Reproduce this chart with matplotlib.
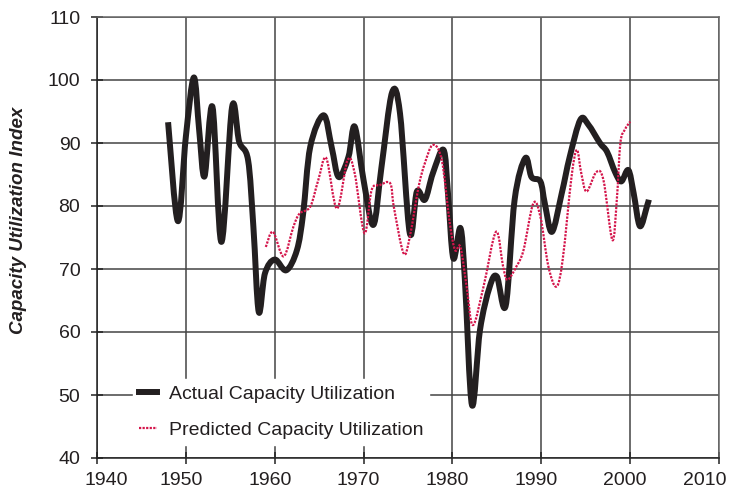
import matplotlib
matplotlib.use("Agg")
import matplotlib.pyplot as plt
from matplotlib.path import Path
from matplotlib.patches import PathPatch
from matplotlib.lines import Line2D
from matplotlib.transforms import ScaledTranslation

actual_years = [1948.0, 1949.1, 1950.0, 1950.9, 1951.5, 1952.1, 1953.0, 1954.0, 1955.2, 1956.0,
                1957.0, 1957.6, 1958.2, 1958.9, 1960.0, 1961.3, 1962.5, 1963.2, 1964.0, 1965.5,
                1966.4, 1967.2, 1968.3, 1969.0, 1970.0, 1971.1, 1972.0, 1973.2, 1974.1, 1975.2,
                1976.0, 1976.9, 1977.8, 1979.0, 1979.5, 1980.1, 1980.9, 1981.4, 1982.2, 1983.1,
                1984.2, 1985.0, 1986.0, 1987.0, 1988.2, 1988.9, 1989.9, 1990.4, 1991.2, 1992.3,
                1993.2, 1994.4, 1995.3, 1996.6, 1997.4, 1998.3, 1999.0, 1999.8, 2000.4, 2001.1,
                2001.9, 2002.1]
actual_values = [93.3, 77.6, 91.0, 100.4, 92.0, 84.7, 95.7, 74.3, 95.7, 90.2,
                 87.3, 76.7, 63.2, 69.3, 71.5, 69.8, 73.0, 78.8, 89.4, 94.4,
                 89.4, 84.6, 87.8, 92.6, 84.1, 77.0, 86.0, 98.0, 94.7, 75.7,
                 82.3, 81.0, 85.2, 88.9, 82.0, 71.7, 76.5, 68.3, 48.4, 60.3,
                 67.2, 68.8, 64.2, 81.0, 87.6, 84.6, 83.9, 80.4, 75.9, 82.0,
                 87.8, 93.7, 92.9, 90.0, 88.6, 85.4, 83.9, 85.7, 82.0, 76.8,
                 80.0, 81.0]

pred_years = [1959.0, 1959.8, 1961.0, 1962.1, 1962.8, 1964.0, 1964.9, 1965.8, 1967.0, 1968.2,
              1969.0, 1970.1, 1970.9, 1971.8, 1973.0, 1973.4, 1974.5, 1975.2, 1976.2, 1976.9,
              1977.8, 1978.8, 1979.7, 1980.3, 1980.9, 1981.6, 1982.3, 1983.5, 1984.9, 1985.7,
              1986.2, 1987.2, 1988.0, 1989.1, 1989.9, 1990.8, 1991.7, 1992.4, 1993.4, 1994.0,
              1994.5, 1995.1, 1996.2, 1997.0, 1998.0, 1998.5, 1998.9, 1999.4, 2000.0]
pred_values = [73.5, 75.9, 72.0, 76.7, 78.8, 79.9, 84.1, 87.6, 79.6, 87.3,
               85.2, 75.7, 82.5, 83.3, 83.6, 79.9, 72.5, 75.1, 83.1, 86.8,
               89.7, 87.3, 77.3, 73.0, 73.5, 67.2, 61.1, 67.2, 75.9, 70.4,
               68.3, 70.4, 73.0, 80.4, 78.3, 70.4, 67.2, 71.4, 84.6, 88.9,
               85.2, 82.3, 85.4, 84.1, 74.6, 81.0, 90.0, 92.1, 93.4]

x_ticks = [1940, 1950, 1960, 1970, 1980, 1990, 2000, 2010]
y_ticks = [40, 50, 60, 70, 80, 90, 100, 110]
labels = ['Actual Capacity Utilization', 'Predicted Capacity Utilization']

font = ['Liberation Sans', 'DejaVu Sans']
ACTUAL_C = '#231f20'
PRED_C = '#d4144a'


def smooth_path(xs, ys):
    """Excel-style smoothed line: cubic Bezier segments through the data points."""
    pts = list(zip(xs, ys))
    n = len(pts)
    verts = [pts[0]]
    codes = [Path.MOVETO]
    for i in range(n - 1):
        p0 = pts[i - 1] if i > 0 else pts[i]
        p1 = pts[i]
        p2 = pts[i + 1]
        p3 = pts[i + 2] if i + 2 < n else pts[i + 1]
        c1 = (p1[0] + (p2[0] - p0[0]) / 6, p1[1] + (p2[1] - p0[1]) / 6)
        c2 = (p2[0] - (p3[0] - p1[0]) / 6, p2[1] - (p3[1] - p1[1]) / 6)
        verts += [c1, c2, p2]
        codes += [Path.CURVE4] * 3
    return Path(verts, codes)


fig = plt.figure(figsize=(7.3, 4.95), dpi=100)
ax = fig.add_axes([97/730, 1 - 458/495, (719 - 97)/730, (458 - 17)/495])

ax.add_patch(PathPatch(smooth_path(actual_years, actual_values), facecolor='none',
                       edgecolor=ACTUAL_C, lw=4.3, joinstyle='round', capstyle='butt', zorder=3))
ax.add_patch(PathPatch(smooth_path(pred_years, pred_values), facecolor='none',
                       edgecolor=PRED_C, lw=1.6, linestyle=(0, (1, 0.6)), zorder=4))

ax.set_xlim(1940, 2010)
ax.set_ylim(40, 110)
ax.set_xticks(x_ticks)
ax.set_yticks(y_ticks)
ax.grid(True, color='#444444', lw=1.1)
ax.set_axisbelow(True)
for s in ax.spines.values():
    s.set_color('#666666')
    s.set_linewidth(1.1)
ax.spines['left'].set_color('#222222')
ax.spines['bottom'].set_color('#222222')
ax.tick_params(direction='inout', length=8, width=1.1, color='#222222')
ax.tick_params(axis='x', pad=6)
ax.tick_params(axis='y', pad=8)
for lab in ax.get_xticklabels() + ax.get_yticklabels():
    lab.set_family(font)
    lab.set_fontsize(14)
    lab.set_color(ACTUAL_C)

# horizontal nudges of the year labels, as in the reference
x_shift = {1940: 9, 2010: -14}
for tick_val, lab in zip(x_ticks, ax.get_xticklabels()):
    dx = x_shift.get(tick_val, -5) / 100
    lab.set_transform(lab.get_transform() + ScaledTranslation(dx, 0, fig.dpi_scale_trans))

ax.set_ylabel('Capacity Utilization Index', fontsize=13.5, fontweight='bold', fontstyle='italic',
              family=font, color=ACTUAL_C)
ax.yaxis.set_label_coords(-70/622, 0.539)

handles = [Line2D([], [], color=ACTUAL_C, lw=4.3),
           Line2D([], [], color=PRED_C, lw=1.6, linestyle=(0, (1, 0.6)))]
leg = ax.legend(handles, labels, loc='lower left', bbox_to_anchor=(0.058, 0.03), frameon=True,
                fancybox=False, edgecolor='white', framealpha=1, handlelength=0.95,
                handletextpad=0.6, borderpad=0.3, labelspacing=0.95, borderaxespad=0,
                prop={'family': font, 'size': 14})
for t in leg.get_texts():
    t.set_color(ACTUAL_C)

fig.savefig('out.png', dpi=100)
